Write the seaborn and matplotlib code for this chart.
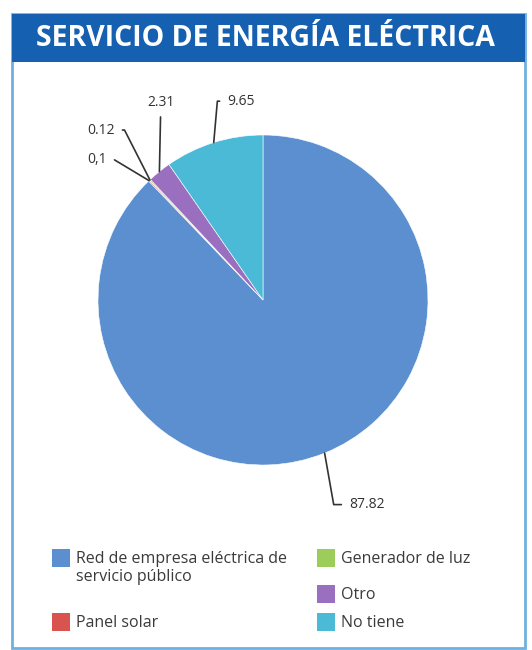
import numpy as np
import seaborn as sns
import matplotlib.pyplot as plt
from matplotlib.patches import Rectangle

categories = ["Red de empresa eléctrica de\nservicio público", "Panel solar",
              "Generador de luz", "Otro", "No tiene"]
values = [87.82, 0.1, 0.12, 2.31, 9.65]
value_labels = ["87.82", "0,1", "0.12", "2.31", "9.65"]
colors = ["#5b8fd0", "#d9534f", "#9ccc5a", "#9b6fc0", "#4bbad6"]

sns.set_style("white")
plt.rcParams['font.family'] = ['Open Sans', 'DejaVu Sans']

W, H = 532, 650
fig = plt.figure(figsize=(W / 100, H / 100), dpi=100)

# frame + title bar (pixel coords -> figure fraction)
def px(x, y):
    return x / W, 1 - y / H

fig.patches.append(Rectangle(px(12, 648), 513 / W, 634 / H, transform=fig.transFigure,
                             fill=False, edgecolor="#6fb0e0", linewidth=2))
fig.patches.append(Rectangle(px(12, 62), 513 / W, 48 / H, transform=fig.transFigure,
                             facecolor="#1560b0", edgecolor="none"))
fig.text(265 / W, 1 - 38 / H, "SERVICIO DE ENERGÍA ELÉCTRICA", color="white",
         fontsize=20.5, fontweight="bold", ha="center", va="center")

# pie axes: center (263,300), radius 165 px
half = 180
ax = fig.add_axes([(263 - half) / W, 1 - (300 + half) / H, 2 * half / W, 2 * half / H])
wedges, _ = ax.pie(values, colors=colors, startangle=90, counterclock=False,
                   wedgeprops=dict(edgecolor="white", linewidth=0.4))
lim = half / 165
ax.set_xlim(-lim, lim)
ax.set_ylim(-lim, lim)
ax.set_aspect("equal")
ax.axis("off")

# label text positions and connector styles
text_pos = [(0.52, -1.24), (-0.945, 0.85), (-0.897, 1.03), (-0.62, 1.20), (-0.218, 1.205)]
conns = ["angle,angleA=180,angleB=100,rad=0", "angle,angleA=0,angleB=149,rad=0",
         "angle,angleA=0,angleB=117,rad=0", "arc3,rad=0", "angle,angleA=180,angleB=85,rad=0"]
has = ["left", "right", "right", "center", "left"]
rels = [(0, 0.5), (1, 0.5), (1, 0.5), (0.5, 0), (0, 0.5)]
for w, lab, tp, cs, ha, rp in zip(wedges, value_labels, text_pos, conns, has, rels):
    ang = np.deg2rad((w.theta1 + w.theta2) / 2)
    xy = (np.cos(ang), np.sin(ang))
    ax.annotate(lab, xy=xy, xytext=tp, ha=ha, va="center", fontsize=10, color="#333333",
                annotation_clip=False,
                arrowprops=dict(arrowstyle="-", color="#333333", lw=1.2, relpos=rp,
                                connectionstyle=cs, shrinkA=3, shrinkB=0))

# legend, manual two-column layout
leg_pos = [(52, 558), (52, 622), (317, 558), (317, 594), (317, 622)]
for (x, y), cat, c in zip(leg_pos, categories, colors):
    fig.patches.append(Rectangle(px(x, y + 9), 18 / W, 18 / H, transform=fig.transFigure,
                                 facecolor=c, edgecolor="none"))
    fig.text((x + 24) / W, 1 - (y - 7) / H, cat, fontsize=11.5, color="#3a3a3a",
             ha="left", va="top", linespacing=1.2)

fig.savefig("out.png", dpi=100)
